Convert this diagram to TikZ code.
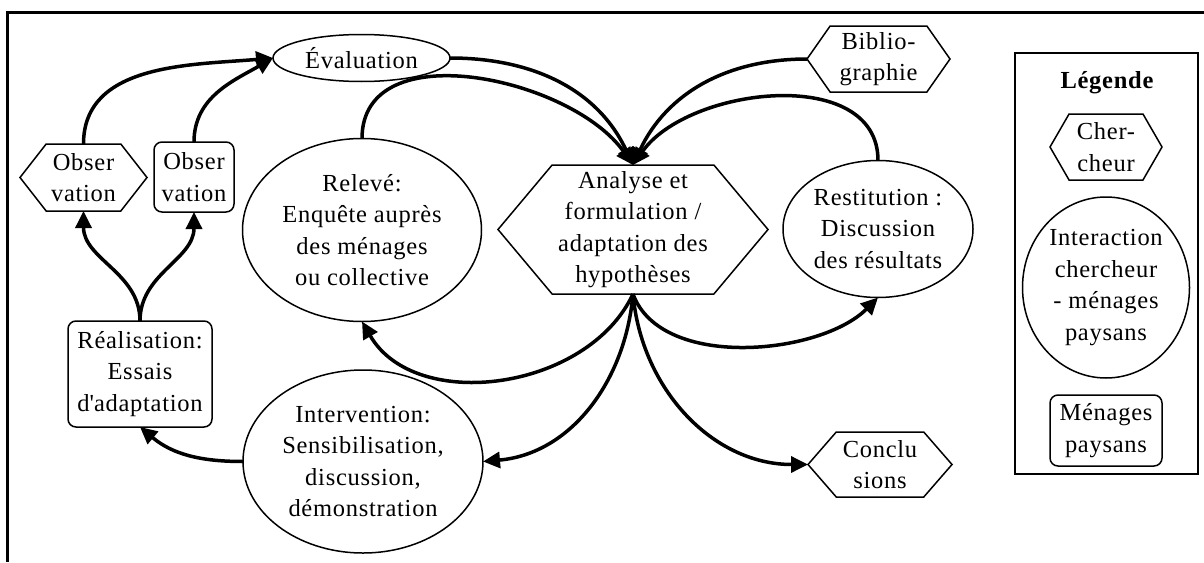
\documentclass[tikz,border=0pt]{standalone}
\usepackage{fontspec}
\setmainfont{Liberation Serif}[LetterSpace=3]
\usetikzlibrary{positioning, shapes.geometric, shapes.symbols, arrows.meta}

\begin{document}
\begin{tikzpicture}[
  x=1pt, y=1pt,
  font=\fontsize{24.5}{31.5}\selectfont,
  node distance=17pt,
  base/.style={draw, line width=1.5pt, inner sep=0pt, outer sep=0pt, align=center},
  hexa/.style={base, signal, signal to=west and east, signal pointer angle=104},
  oval/.style={base, ellipse},
  boxed/.style={base, rounded corners=8pt},
  arrow/.style={-{Triangle[length=17pt,width=16pt]}, line width=3.5pt},
]
\useasboundingbox (0,0) rectangle (1204,-562);

% frame, cut off at the right and bottom
\draw[line width=3pt] (7.5,-562) -- (7.5,-12.5) -- (1204,-12.5);

\node[oval, minimum width=177pt, minimum height=47pt] (eval) at (361.5,-58) {Évaluation};
\node[hexa, minimum width=127pt, minimum height=67pt] (obs1) at (83.5,-177.5) {Obser\\vation};
\node[boxed, minimum width=80pt, minimum height=70pt] (obs2) at (194,-177) {Obser\\vation};
\node[boxed, minimum width=144pt, minimum height=106pt] (real) at (140,-374) {Réalisation:\\Essais\\d\textquotesingle adaptation};
\node[oval, minimum width=239pt, minimum height=183pt] (releve) at (362,-230) {Relevé:\\Enquête auprès\\des ménages\\ou collective};
\node[hexa, signal pointer angle=100, minimum width=270pt, minimum height=129pt] (analyse) at (633,-229.5) {Analyse et\\formulation /\\adaptation des\\hypothèses};
\node[hexa, signal pointer angle=110, minimum width=143pt, minimum height=66pt] (biblio) at (878.5,-59) {Biblio-\\graphie};
\node[oval, minimum width=190pt, minimum height=137pt] (restit) at (878,-229) {Restitution :\\Discussion\\des résultats};
\node[oval, minimum width=240pt, minimum height=183pt] (interv) at (363,-461.5) {Intervention:\\Sensibilisation,\\discussion,\\démonstration};
\node[hexa, signal pointer angle=98, minimum width=144pt, minimum height=65pt] (concl) at (880,-464.5) {Conclu\\sions};

% legend
\node[draw, line width=2pt, minimum width=183pt, minimum height=421pt] (legend) at (1106.5,-263.5) {};
\node[font=\fontsize{24.5}{31.5}\selectfont\bfseries] (legtitle) at (1107,-83) {Légende};
\node[hexa, signal pointer angle=120, minimum width=112pt, minimum height=66pt] (legcher) at (1106,-147) {Cher-\\cheur};
\node[oval, minimum width=167pt, minimum height=181pt, below=of legcher] (leginter) {Interaction\\chercheur\\- ménages\\paysans};
\node[boxed, minimum width=112pt, minimum height=71pt, below=of leginter] (legmen) {Ménages\\paysans};

\draw[arrow] (obs1.north) to[out=90, in=185] (eval.west);
\draw[arrow] (obs2.north) to[out=90, in=210] (eval.west);
\draw[arrow] (real.north) to[out=90, in=-90] (obs1.south);
\draw[arrow] (real.north) to[out=90, in=-90] (obs2.south);
\draw[arrow] (interv.west) to[out=180, in=-40] (real.south);

\draw[arrow] (eval.east) to[out=0, in=115] (analyse.north);
\draw[arrow] (releve.north) to[out=90, in=125] (analyse.north);
\draw[arrow] (biblio.west) to[out=180, in=65] (analyse.north);
\draw[arrow] (restit.north) to[out=90, in=55] (analyse.north);

\draw[arrow] (analyse.south) to[out=-115, in=-60] (releve.south);
\draw[arrow] (analyse.south) to[out=-70, in=-135, looseness=0.85] (restit.south);
\draw[arrow] (analyse.south) to[out=-95, in=5] (interv.east);
\draw[arrow] (analyse.south) to[out=-85, in=180] (concl.west);

\end{tikzpicture}
\end{document}
